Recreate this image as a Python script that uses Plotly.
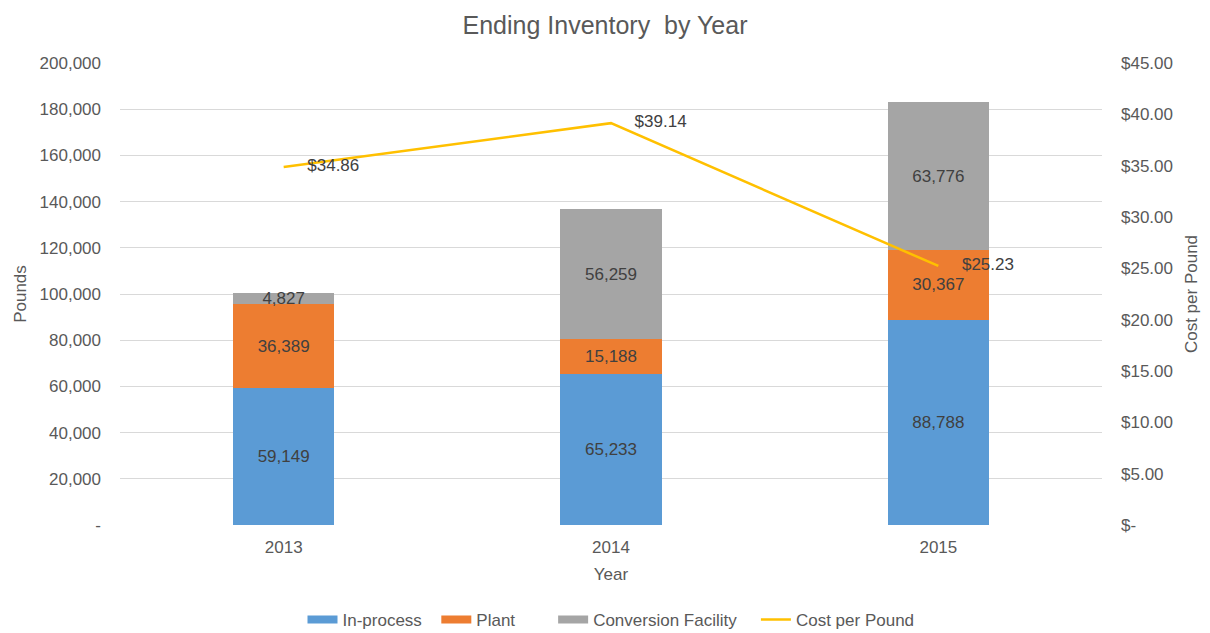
import plotly.graph_objects as go

_FONT = "Liberation Sans, Arial, sans-serif"
_TEXT = "#595959"
_LABEL = "#404040"

years = ["2013", "2014", "2015"]
in_process = [59149, 65233, 88788]
plant = [36389, 15188, 30367]
conversion = [4827, 56259, 63776]
cost_per_pound = [34.86, 39.14, 25.23]

left_ticks = [0, 20000, 40000, 60000, 80000, 100000, 120000, 140000, 160000, 180000, 200000]
left_text = ["-"] + [f"{v:,}" for v in left_ticks[1:]]
right_ticks = [0, 5, 10, 15, 20, 25, 30, 35, 40, 45]
right_text = ["$-"] + [f"${v:.2f}" for v in right_ticks[1:]]

fig = go.Figure()

bar_series = [
    ("In-process", in_process, "#5B9BD5"),
    ("Plant", plant, "#ED7D31"),
    ("Conversion Facility", conversion, "#A5A5A5"),
]
for name, vals, color in bar_series:
    fig.add_trace(go.Bar(
        x=years, y=vals, name=name,
        marker=dict(color=color, line=dict(width=0)),
        text=[f"{v:,}" for v in vals],
        textposition="inside", insidetextanchor="middle",
        textangle=0, constraintext="none",
        textfont=dict(color=_LABEL, size=17, family=_FONT),
        hoverinfo="skip", showlegend=False,
    ))

# legend-only stand-ins so the swatches are wide bands like the original;
# trailing spaces widen the gaps between entries
legend_pad = {"In-process": 2, "Plant": 7, "Conversion Facility": 3}
for name, _, color in bar_series:
    fig.add_trace(go.Scatter(
        x=[None], y=[None], name=name + "\u00a0" * legend_pad[name], mode="lines",
        line=dict(color=color, width=8),
    ))

fig.add_trace(go.Scatter(
    x=years, y=cost_per_pound, name="Cost per Pound",
    mode="lines+text", yaxis="y2",
    line=dict(color="#FFC000", width=2.5),
    text=["\u00a0" * 5 + f"${v:.2f}" for v in cost_per_pound],
    textposition="middle right",
    textfont=dict(color=_LABEL, size=17, family=_FONT),
    cliponaxis=False,
))

# the page body adds an 8px offset, so margins are shifted to compensate;
# the figure is a bit taller than the window so the legend never pushes the margin
fig.update_layout(
    width=1210, height=650,
    font=dict(family=_FONT, color=_TEXT, size=17),
    paper_bgcolor="white", plot_bgcolor="white",
    margin=dict(l=110, r=116, t=55, b=133),
    barmode="stack", bargap=0.69,
    uniformtext=dict(minsize=17, mode="show"),
    title=dict(text="Ending Inventory  by Year", x=(605 - 8) / 1210, xanchor="center",
               yref="container", y=1 - 17 / 650, yanchor="middle",
               font=dict(size=25, color=_TEXT)),
    xaxis=dict(
        title=dict(text="Year", font=dict(size=17), standoff=12),
        showgrid=False, ticks="", showline=False, zeroline=False,
        ticklabelstandoff=10,
    ),
    yaxis=dict(
        title=dict(text="Pounds", font=dict(size=17), standoff=8),
        range=[0, 200000], tickvals=left_ticks, ticktext=left_text,
        gridcolor="#D9D9D9", gridwidth=1, zeroline=False, showline=False,
        ticks="", ticklabelstandoff=18,
    ),
    yaxis2=dict(
        title=dict(text="Cost per Pound", font=dict(size=17), standoff=13),
        overlaying="y", side="right",
        range=[0, 45], tickvals=right_ticks, ticktext=right_text,
        showgrid=False, zeroline=False, showline=False, ticks="",
        ticklabelstandoff=18,
    ),
    legend=dict(
        orientation="h", x=0.5, xanchor="center", y=-0.2056, yanchor="middle",
        font=dict(size=17), traceorder="normal",
    ),
)

fig.write_html("out.html")
